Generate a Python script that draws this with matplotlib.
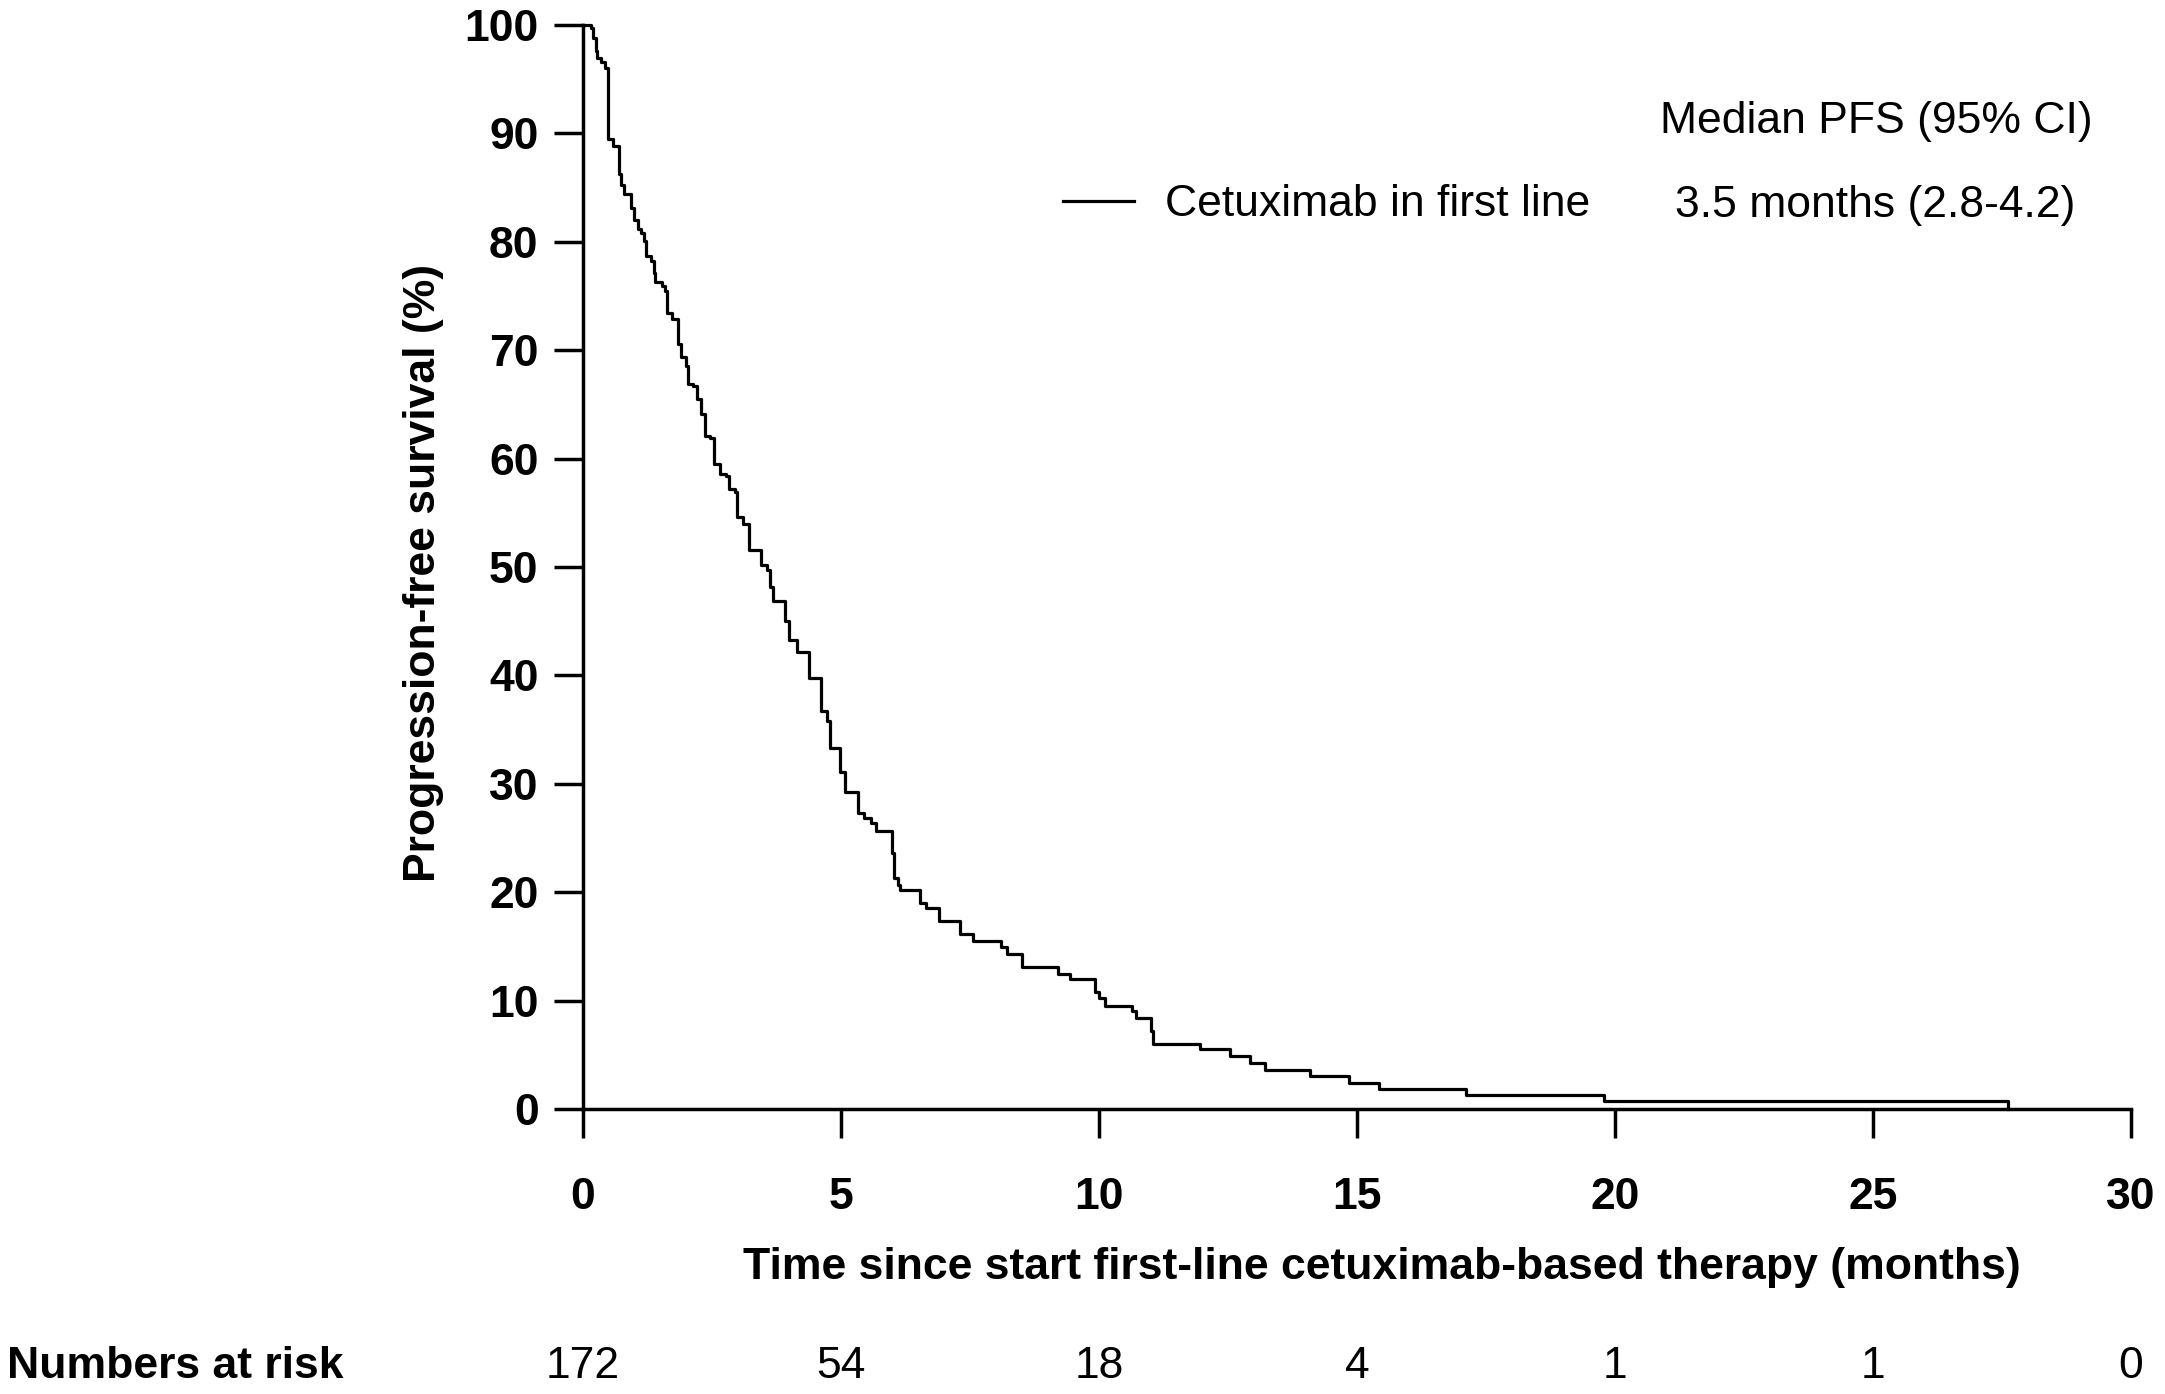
import matplotlib
matplotlib.use("Agg")
import matplotlib.pyplot as plt
import matplotlib.transforms as mtransforms

plt.rcParams["font.family"] = ["Liberation Sans", "DejaVu Sans"]

# Kaplan-Meier steps (months, % progression-free)
times = [0, 0.15, 0.20, 0.25, 0.28, 0.35, 0.43, 0.49, 0.58, 0.70, 0.73, 0.80, 0.93, 0.99,
         1.06, 1.13, 1.19, 1.23, 1.32, 1.38, 1.40, 1.53, 1.58, 1.62, 1.73, 1.84, 1.85, 1.90,
         2.00, 2.03, 2.14, 2.21, 2.28, 2.36, 2.47, 2.54, 2.65, 2.77, 2.82, 2.95, 2.99, 3.10,
         3.22, 3.45, 3.56, 3.63, 3.69, 3.92, 4.00, 4.14, 4.38, 4.61, 4.73, 4.79, 4.99, 5.08,
         5.32, 5.44, 5.58, 5.68, 5.98, 6.02, 6.10, 6.15, 6.53, 6.65, 6.89, 7.30, 7.55, 8.10,
         8.22, 8.50, 9.20, 9.44, 9.93, 10.00, 10.12, 10.63, 10.72, 11.00, 11.04, 11.96, 12.53,
         12.92, 13.22, 14.08, 14.85, 15.43, 17.12, 19.78, 27.62]
surv = [100, 99.7, 98.8, 97.6, 97.0, 96.6, 96.0, 89.5, 88.8, 86.3, 85.2, 84.4, 83.1, 82.0,
        81.2, 80.8, 80.1, 78.7, 78.2, 77.1, 76.3, 75.9, 75.5, 73.4, 72.9, 72.7, 70.6, 69.4,
        68.5, 66.9, 66.7, 65.5, 64.1, 62.1, 61.9, 59.5, 58.6, 58.4, 57.2, 56.9, 54.6, 54.0,
        51.6, 50.2, 49.7, 48.2, 46.9, 45.0, 43.3, 42.2, 39.8, 36.7, 35.8, 33.3, 31.1, 29.2,
        27.3, 26.8, 26.4, 25.6, 23.6, 21.3, 20.7, 20.2, 19.0, 18.5, 17.3, 16.1, 15.5, 14.9,
        14.3, 13.1, 12.5, 12.0, 10.8, 10.2, 9.5, 9.0, 8.4, 7.2, 6.0, 5.5, 4.9, 4.2,
        3.6, 3.0, 2.4, 1.8, 1.3, 0.7, 0.0]

xticks = [0, 5, 10, 15, 20, 25, 30]
yticks = [0, 10, 20, 30, 40, 50, 60, 70, 80, 90, 100]
at_risk = [172, 54, 18, 4, 1, 1, 0]

series_label = "Cetuximab in first line"
median_text = "3.5 months (2.8-4.2)"

FS = 32
W, H = 2165, 1394
fig = plt.figure(figsize=(W / 100, H / 100), dpi=100)
ax = fig.add_axes([583 / W, 1 - 1109 / H, (2131 - 583) / W, (1109 - 25) / H])

ax.plot(times, surv, drawstyle="steps-post", color="black", lw=2.3,
        label=series_label, clip_on=False, zorder=3)

ax.set_xlim(0, 30)
ax.set_ylim(0, 100)
ax.set_xticks(xticks)
ax.set_yticks(yticks)
for side in ["top", "right"]:
    ax.spines[side].set_visible(False)
for side in ["left", "bottom"]:
    ax.spines[side].set_linewidth(2.5)

ax.tick_params(axis="both", direction="out", length=21, width=2.5, labelsize=FS)
ax.tick_params(axis="y", pad=11)
ax.tick_params(axis="x", pad=28)
for lab in ax.get_xticklabels() + ax.get_yticklabels():
    lab.set_fontweight("bold")

fig.text(423 / W, 1 - 573 / H, "Progression-free survival (%)", rotation=90,
         ha="center", va="center", fontsize=FS, fontweight="bold")
fig.text(1382 / W, 1 - 1268 / H, "Time since start first-line cetuximab-based therapy (months)",
         ha="center", va="center", fontsize=FS, fontweight="bold")

# numbers at risk row under the x ticks
fig.text(7 / W, 1 - 1366 / H, "Numbers at risk", ha="left", va="center",
         fontsize=FS, fontweight="bold")
trans = mtransforms.blended_transform_factory(ax.transData, fig.transFigure)
for xv, n in zip(xticks, at_risk):
    ax.text(xv, 1 - 1366 / H, str(n), transform=trans, ha="center", va="center",
            fontsize=FS, clip_on=False)

# legend block
ax.legend(loc="center left", bbox_to_anchor=(1063 / W, 1 - 205 / H),
          bbox_transform=fig.transFigure, frameon=False, fontsize=FS,
          handlelength=1.6, handletextpad=0.7, borderpad=0, borderaxespad=0)
fig.text(1660 / W, 1 - 122 / H, "Median PFS (95% CI)", ha="left", va="center", fontsize=FS)
fig.text(1675 / W, 1 - 205 / H, median_text, ha="left", va="center", fontsize=FS)

fig.savefig("out.png", dpi=100)
